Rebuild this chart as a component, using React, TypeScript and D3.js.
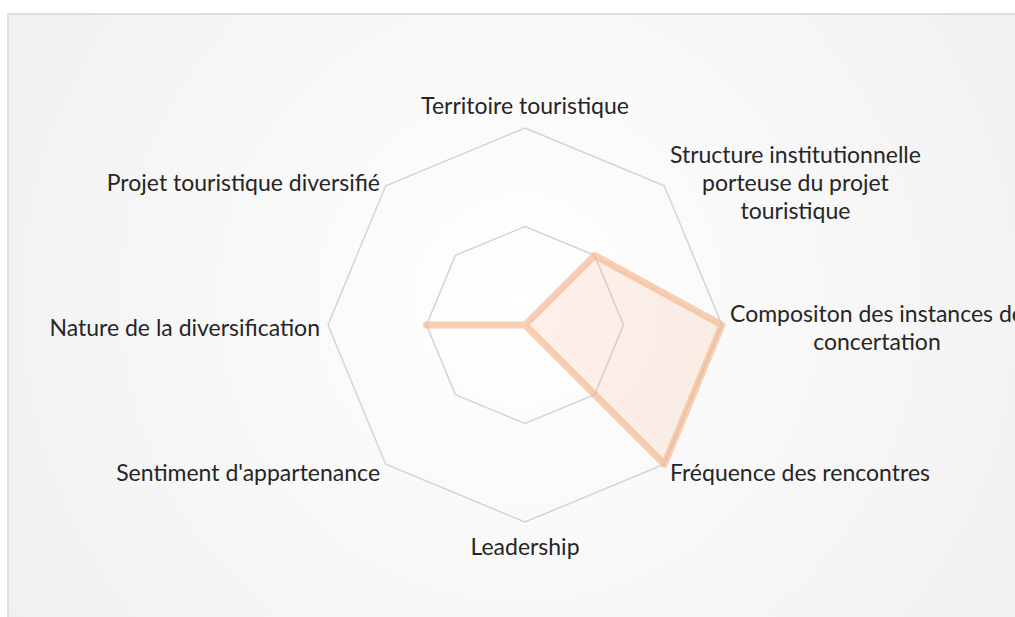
import React, { useEffect, useRef } from 'react'
import * as d3 from 'd3'

// axes of the radar, clockwise from the top (label lines as wrapped in the chart)
const categories = [
  ['Territoire touristique'],
  ['Structure institutionnelle', 'porteuse du projet', 'touristique'],
  ['Compositon des instances de', 'concertation'],
  ['Fréquence des rencontres'],
  ['Leadership'],
  ["Sentiment d'appartenance"],
  ['Nature de la diversification'],
  ['Projet touristique diversifié'],
]
const scores = [0, 1, 2, 2, 0, 0, 1, 0]
const gridLevels = [1, 2]

const App = () => {
  const svgRef = useRef<SVGSVGElement>(null)

  useEffect(() => {
    const width = 1015
    const height = 617
    const cx = 525
    const cy = 325
    const outer = 197
    const lineHeight = 28
    const font = 'Lato, "Open Sans", sans-serif'

    const svg = d3.select(svgRef.current)
    svg.selectAll('*').remove()
    svg.attr('width', width).attr('height', height).attr('viewBox', [0, 0, width, height])

    // background gradient like the Excel chart area
    const defs = svg.append('defs')
    const grad = defs
      .append('radialGradient')
      .attr('id', 'bg')
      .attr('gradientUnits', 'userSpaceOnUse')
      .attr('cx', 520)
      .attr('cy', 300)
      .attr('r', 620)
    grad.append('stop').attr('offset', '0%').attr('stop-color', '#ffffff')
    grad.append('stop').attr('offset', '100%').attr('stop-color', '#f0f0f0')

    svg
      .append('rect')
      .attr('x', 8)
      .attr('y', 14)
      .attr('width', width + 20)
      .attr('height', height + 20)
      .attr('fill', 'url(#bg)')
      .attr('stroke', '#d6d6d6')
      .attr('stroke-width', 1.5)

    const n = categories.length
    const angle = d3
      .scaleLinear()
      .domain([0, n])
      .range([0, 2 * Math.PI])
    const r = d3
      .scaleLinear()
      .domain([0, d3.max(gridLevels)!])
      .range([0, outer])

    const g = svg.append('g').attr('transform', `translate(${cx},${cy})`)

    // octagon grid rings
    const ring = d3
      .lineRadial<number>()
      .angle((_, i) => angle(i))
      .radius((d) => r(d))
      .curve(d3.curveLinearClosed)

    g.selectAll('path.grid')
      .data(gridLevels)
      .join('path')
      .attr('class', 'grid')
      .attr('d', (lvl) => ring(categories.map(() => lvl)))
      .attr('fill', 'none')
      .attr('stroke', '#d4d4d4')
      .attr('stroke-width', 1.5)

    // series
    g.append('path')
      .attr('d', ring(scores))
      .attr('fill', '#f4b183')
      .attr('fill-opacity', 0.18)
      .attr('stroke', '#f4b183')
      .attr('stroke-opacity', 0.6)
      .attr('stroke-width', 7)
      .attr('stroke-linejoin', 'round')
      .attr('stroke-linecap', 'round')

    // axis labels
    categories.forEach((lines, i) => {
      const a = angle(i)
      const s = Math.sin(a)
      const c = Math.cos(a)
      const t = svg
        .append('text')
        .attr('font-family', font)
        .attr('font-size', 23)
        .attr('fill', '#262626')
        .attr('text-anchor', 'middle')
        .attr('dominant-baseline', 'central')
      const spans = lines.map((l) => t.append('tspan').text(l))
      const widths = spans.map((sp) => (sp.node() as SVGTSpanElement).getComputedTextLength())
      const blockW = d3.max(widths)!

      let mx: number
      let my: number
      if (Math.abs(s) < 0.1) {
        mx = cx
        my = c > 0 ? cy - outer - 23 : cy + outer + 24
      } else {
        const px = cx + (outer + 8) * s
        const py = cy - (outer + 8) * c + 2
        mx = s > 0 ? px + blockW / 2 : px - blockW / 2
        my = py
      }
      const top = my - ((lines.length - 1) * lineHeight) / 2
      spans.forEach((sp, k) => sp.attr('x', mx).attr('y', top + k * lineHeight))
    })
  }, [])

  return (
    <svg
      ref={svgRef}
      style={{ position: 'absolute', left: 0, top: 0, display: 'block' }}
    ></svg>
  )
}

export default App
